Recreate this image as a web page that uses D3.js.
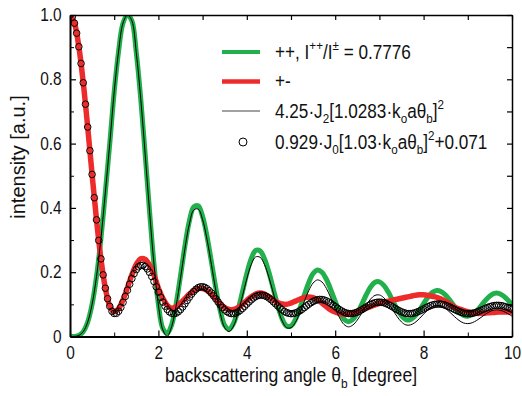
<!DOCTYPE html>
<html>
<head>
<meta charset="utf-8">
<script src="https://cdn.jsdelivr.net/npm/d3@7"></script>
<style>
  body { margin: 0; background: #fff; }
  svg { display: block; font-family: "Liberation Sans", Arial, sans-serif; }
</style>
</head>
<body>
<svg id="chart" width="522" height="396"></svg>
<script>
// sampling grids (degrees)
const lineStep = 0.1;
const circleStep = 0.05;

// "++" measured curve
const plusPlus = [
  0, 0.0002, 0.0031, 0.0151, 0.0446, 0.1001, 0.1868, 0.3052, 0.4491, 0.6009,
  0.7612, 0.8880, 0.9751, 1.0, 0.9820, 0.8826, 0.7401, 0.5684, 0.3892, 0.2252,
  0.1000, 0.0250, 0.0100, 0.0364, 0.1007, 0.1888, 0.2816, 0.3588, 0.4033, 0.4064,
  0.3733, 0.3113, 0.2319, 0.1496, 0.0793, 0.0345, 0.0224, 0.0407, 0.0823, 0.1380,
  0.1956, 0.2421, 0.2673, 0.2663, 0.2420, 0.1997, 0.1476, 0.0960, 0.0549, 0.0326,
  0.0328, 0.0525, 0.0868, 0.1282, 0.1673, 0.1958, 0.2070, 0.1999, 0.1780, 0.1457,
  0.1095, 0.0768, 0.0540, 0.0460, 0.0531, 0.0724, 0.0998, 0.1291, 0.1538, 0.1685,
  0.1700, 0.1591, 0.1383, 0.1118, 0.0851, 0.0639, 0.0523, 0.0525, 0.0628, 0.0806,
  0.1021, 0.1224, 0.1372, 0.1430, 0.1394, 0.1283, 0.1119, 0.0936, 0.0773, 0.0664,
  0.0630, 0.0678, 0.0795, 0.0955, 0.1123, 0.1261, 0.1340, 0.1341, 0.1270, 0.1142,
  0.0985
];

// "+-" measured curve
const plusMinus = [
  1.000, 0.9746, 0.9013, 0.7892, 0.6515, 0.5041, 0.3628, 0.2416, 0.1502, 0.0950,
  0.0770, 0.0870, 0.1140, 0.1520, 0.1920, 0.2240, 0.2420, 0.2400, 0.2220, 0.1910,
  0.1500, 0.1190, 0.0970, 0.0880, 0.0930, 0.1040, 0.1180, 0.1320, 0.1430, 0.1490,
  0.1490, 0.1430, 0.1310, 0.1165, 0.1020, 0.0900, 0.0840, 0.0838, 0.0895, 0.0998,
  0.1121, 0.1238, 0.1320, 0.1350, 0.1320, 0.1240, 0.1140, 0.1060, 0.1010, 0.1000,
  0.1040, 0.1100, 0.1160, 0.1210, 0.1230, 0.1210, 0.1140, 0.1040, 0.0930, 0.0830,
  0.0760, 0.0710, 0.0690, 0.0700, 0.0730, 0.0780, 0.0830, 0.0880, 0.0930, 0.0980,
  0.1030, 0.1070, 0.1100, 0.1130, 0.1160, 0.1190, 0.1220, 0.1250, 0.1280, 0.1300,
  0.1300, 0.1280, 0.1250, 0.1220, 0.1160, 0.1090, 0.1010, 0.0910, 0.0860, 0.0810,
  0.0770, 0.0740, 0.0720, 0.0720, 0.0730, 0.0740, 0.0750, 0.0760, 0.0760, 0.0760,
  0.0760
];

// 4.25·J2[...]^2 fit (thin black line)
const j2Fit = [
  0, 0.0002, 0.0031, 0.0151, 0.0446, 0.1001, 0.1868, 0.3052, 0.4491, 0.6009,
  0.7612, 0.8880, 0.9751, 1.0, 0.9820, 0.8826, 0.7401, 0.5684, 0.3892, 0.2252,
  0.0979, 0.0207, 0.0005, 0.0310, 0.0945, 0.1815, 0.2732, 0.3494, 0.3934, 0.3964,
  0.3635, 0.3020, 0.2233, 0.1416, 0.0719, 0.0274, 0.0154, 0.0327, 0.0721, 0.1250,
  0.1795, 0.2235, 0.2475, 0.2465, 0.2238, 0.1841, 0.1352, 0.0869, 0.0484, 0.0275,
  0.0274, 0.0442, 0.0734, 0.1087, 0.1422, 0.1664, 0.1760, 0.1696, 0.1497, 0.1204,
  0.0875, 0.0579, 0.0373, 0.0300, 0.0357, 0.0511, 0.0730, 0.0964, 0.1163, 0.1280,
  0.1292, 0.1206, 0.1041, 0.0832, 0.0620, 0.0452, 0.0360, 0.0360, 0.0429, 0.0550,
  0.0695, 0.0831, 0.0931, 0.0970, 0.0944, 0.0865, 0.0748, 0.0618, 0.0502, 0.0424,
  0.0400, 0.0429, 0.0499, 0.0594, 0.0694, 0.0777, 0.0824, 0.0825, 0.0787, 0.0717,
  0.0632
];

// 0.929·J0[...]^2+0.071 fit (open circles), every 0.05 deg
const j0Fit = [
  1.000, 0.9936, 0.9746, 0.9435, 0.9013, 0.8493, 0.7892, 0.7226, 0.6515, 0.5780,
  0.5041, 0.4317, 0.3628, 0.2989, 0.2416, 0.1917, 0.1502, 0.1176, 0.0938, 0.0786,
  0.0717, 0.0721, 0.0787, 0.0905, 0.1062, 0.1244, 0.1439, 0.1627, 0.1803, 0.1957,
  0.2081, 0.2169, 0.2211, 0.2214, 0.2175, 0.2101, 0.1994, 0.1866, 0.1711, 0.1547,
  0.1380, 0.1219, 0.1071, 0.0944, 0.0841, 0.0767, 0.0723, 0.0710, 0.0727, 0.0771,
  0.0837, 0.0921, 0.1018, 0.1120, 0.1222, 0.1318, 0.1402, 0.1470, 0.1518, 0.1544,
  0.1547, 0.1527, 0.1486, 0.1426, 0.1350, 0.1264, 0.1170, 0.1076, 0.0984, 0.0901,
  0.0829, 0.0772, 0.0733, 0.0713, 0.0712, 0.0729, 0.0763, 0.0812, 0.0871, 0.0938,
  0.1008, 0.1077, 0.1141, 0.1197, 0.1242, 0.1273, 0.1288, 0.1288, 0.1271, 0.1241,
  0.1197, 0.1143, 0.1081, 0.1016, 0.0950, 0.0886, 0.0829, 0.0781, 0.0745, 0.0721,
  0.0710, 0.0714, 0.0731, 0.0760, 0.0799, 0.0846, 0.0897, 0.0951, 0.1003, 0.1050,
  0.1091, 0.1123, 0.1144, 0.1153, 0.1150, 0.1135, 0.1109, 0.1073, 0.1030, 0.0982,
  0.0931, 0.0881, 0.0833, 0.0791, 0.0756, 0.0730, 0.0715, 0.0710, 0.0716, 0.0733,
  0.0759, 0.0792, 0.0831, 0.0873, 0.0916, 0.0957, 0.0994, 0.1026, 0.1049, 0.1064,
  0.1069, 0.1064, 0.1049, 0.1026, 0.0996, 0.0959, 0.0920, 0.0878, 0.0837, 0.0800,
  0.0767, 0.0740, 0.0722, 0.0712, 0.0711, 0.0719, 0.0735, 0.0759, 0.0788, 0.0821,
  0.0857, 0.0893, 0.0927, 0.0957, 0.0981, 0.0999, 0.1009, 0.1011, 0.1005, 0.0990,
  0.0969, 0.0942, 0.0911, 0.0876, 0.0842, 0.0808, 0.0777, 0.0751, 0.0730, 0.0717,
  0.0710, 0.0712, 0.0721, 0.0737, 0.0759, 0.0785, 0.0815, 0.0845, 0.0876, 0.0904,
  0.0929, 0.0949, 0.0962, 0.0969, 0.0969, 0.0961, 0.0947, 0.0927, 0.0903, 0.0875,
  0.0845
];

const xTicks = [0, 2, 4, 6, 8, 10];
const xMinorTicks = [1, 3, 5, 7, 9];
const yTicks = [0, 0.2, 0.4, 0.6, 0.8, 1.0];
const yMinorTicks = [0.1, 0.3, 0.5, 0.7, 0.9];

const GREEN = '#21b04b';
const RED = '#ee2b2b';
const NARROW = 0.88; // reference type is a condensed sans

const svg = d3.select('#chart');
const plot = { left: 70, right: 512, top: 15, bottom: 336.5 };

const x = d3.scaleLinear().domain([0, 10]).range([plot.left, plot.right]);
const y = d3.scaleLinear().domain([0, 1]).range([plot.bottom, plot.top]);

svg.append('defs').append('clipPath').attr('id', 'clip')
  .append('rect')
  .attr('x', plot.left).attr('y', plot.top)
  .attr('width', plot.right - plot.left).attr('height', plot.bottom - plot.top);

const toPoints = (vals, step) => vals.map((v, i) => [i * step, v]);

const line = d3.line()
  .x(d => x(d[0]))
  .y(d => y(d[1]))
  .curve(d3.curveCatmullRom.alpha(0.5));

const g = svg.append('g').attr('clip-path', 'url(#clip)');

g.append('path')
  .datum(toPoints(plusPlus, lineStep))
  .attr('d', line)
  .attr('fill', 'none')
  .attr('stroke', GREEN)
  .attr('stroke-width', 5);

g.append('path')
  .datum(toPoints(plusMinus, lineStep))
  .attr('d', line)
  .attr('fill', 'none')
  .attr('stroke', RED)
  .attr('stroke-width', 5.5);

g.append('path')
  .datum(toPoints(j2Fit, lineStep))
  .attr('d', line)
  .attr('fill', 'none')
  .attr('stroke', '#000')
  .attr('stroke-width', 1);

g.selectAll('circle.fit')
  .data(toPoints(j0Fit, circleStep))
  .join('circle')
  .attr('class', 'fit')
  .attr('cx', d => x(d[0]))
  .attr('cy', d => y(d[1]))
  .attr('r', 3.3)
  .attr('fill', 'none')
  .attr('stroke', '#000')
  .attr('stroke-width', 1);

// axes, ticks pointing inward
const fmtY = d => d === 0 ? '0' : d3.format('.1f')(d);

function styleAxis(sel, width) {
  sel.select('.domain').attr('stroke-width', width);
  sel.selectAll('.tick line').attr('stroke-width', 1.2);
  sel.selectAll('.tick text')
    .attr('font-family', '"Liberation Sans", Arial, sans-serif')
    .attr('font-size', 17.5)
    .attr('fill', '#111')
    .attr('transform', `scale(${NARROW},1)`);
}

svg.append('g')
  .attr('transform', `translate(0,${plot.bottom})`)
  .call(d3.axisBottom(x).tickValues(xMinorTicks).tickSize(-4).tickSizeOuter(0).tickFormat(''))
  .call(s => s.select('.domain').remove());
svg.append('g')
  .attr('transform', `translate(0,${plot.bottom})`)
  .call(d3.axisBottom(x).tickValues(xTicks).tickSize(-6).tickSizeOuter(0).tickPadding(10))
  .call(s => styleAxis(s, 2));

svg.append('g')
  .attr('transform', `translate(${plot.left},0)`)
  .call(d3.axisLeft(y).tickValues(yMinorTicks).tickSize(-4).tickSizeOuter(0).tickFormat(''))
  .call(s => s.select('.domain').remove());
svg.append('g')
  .attr('transform', `translate(${plot.left},0)`)
  .call(d3.axisLeft(y).tickValues(yTicks).tickSize(-6).tickSizeOuter(0).tickPadding(9.5).tickFormat(fmtY))
  .call(s => styleAxis(s, 2));

svg.append('g')
  .attr('transform', `translate(0,${plot.top})`)
  .call(d3.axisTop(x).tickValues(xTicks.concat(xMinorTicks)).tickSize(-5).tickSizeOuter(0).tickFormat(''))
  .call(s => styleAxis(s, 1.5));

svg.append('g')
  .attr('transform', `translate(${plot.right},0)`)
  .call(d3.axisRight(y).tickValues(yTicks.concat(yMinorTicks)).tickSize(-5).tickSizeOuter(0).tickFormat(''))
  .call(s => styleAxis(s, 1.5));

// rich text helper: parts are [text, 'sup'|'sub'|undefined]
function richText(sel, parts, size) {
  let shift = 0;
  parts.forEach(([t, kind]) => {
    const target = kind === 'sup' ? -0.42 * size : kind === 'sub' ? 0.3 * size : 0;
    sel.append('tspan')
      .attr('dy', target - shift)
      .attr('font-size', kind ? size * 0.68 : size)
      .text(t);
    shift = target;
  });
}

// axis titles
const xTitle = svg.append('text')
  .attr('transform', `translate(${(plot.left + plot.right) / 2},382) scale(${NARROW},1)`)
  .attr('text-anchor', 'middle')
  .attr('fill', '#111');
richText(xTitle, [['backscattering angle \u03b8'], ['b', 'sub'], [' [degree]']], 20);

svg.append('text')
  .attr('transform', 'translate(25,157) rotate(-90)')
  .attr('text-anchor', 'middle')
  .attr('font-size', 20)
  .attr('fill', '#111')
  .text('intensity [a.u.]');

// legend
const legend = svg.append('g');
const legendRows = [
  { y: 52, kind: 'line', color: GREEN, width: 4,
    parts: [['++, I'], ['++', 'sup'], ['/I'], ['\u00b1', 'sup'], [' = 0.7776']] },
  { y: 81.5, kind: 'line', color: RED, width: 4.5,
    parts: [['+-']] },
  { y: 111, kind: 'line', color: '#444', width: 1,
    parts: [['4.25\u00b7J'], ['2', 'sub'], ['[1.0283\u00b7k'], ['o', 'sub'], ['a\u03b8'], ['b', 'sub'], [']'], ['2', 'sup']] },
  { y: 142, kind: 'circle',
    parts: [['0.929\u00b7J'], ['0', 'sub'], ['[1.03\u00b7k'], ['o', 'sub'], ['a\u03b8'], ['b', 'sub'], [']'], ['2', 'sup'], ['+0.071']] }
];

legendRows.forEach(row => {
  if (row.kind === 'line') {
    legend.append('line')
      .attr('x1', 222).attr('x2', 260)
      .attr('y1', row.y).attr('y2', row.y)
      .attr('stroke', row.color)
      .attr('stroke-width', row.width);
  } else {
    legend.append('circle')
      .attr('cx', 243).attr('cy', row.y)
      .attr('r', 4)
      .attr('fill', 'none')
      .attr('stroke', '#000')
      .attr('stroke-width', 1);
  }
  const t = legend.append('text')
    .attr('transform', `translate(275,${row.y + 6.5}) scale(0.88,1)`)
    .attr('fill', '#111');
  richText(t, row.parts, 19.5);
});
</script>
</body>
</html>
